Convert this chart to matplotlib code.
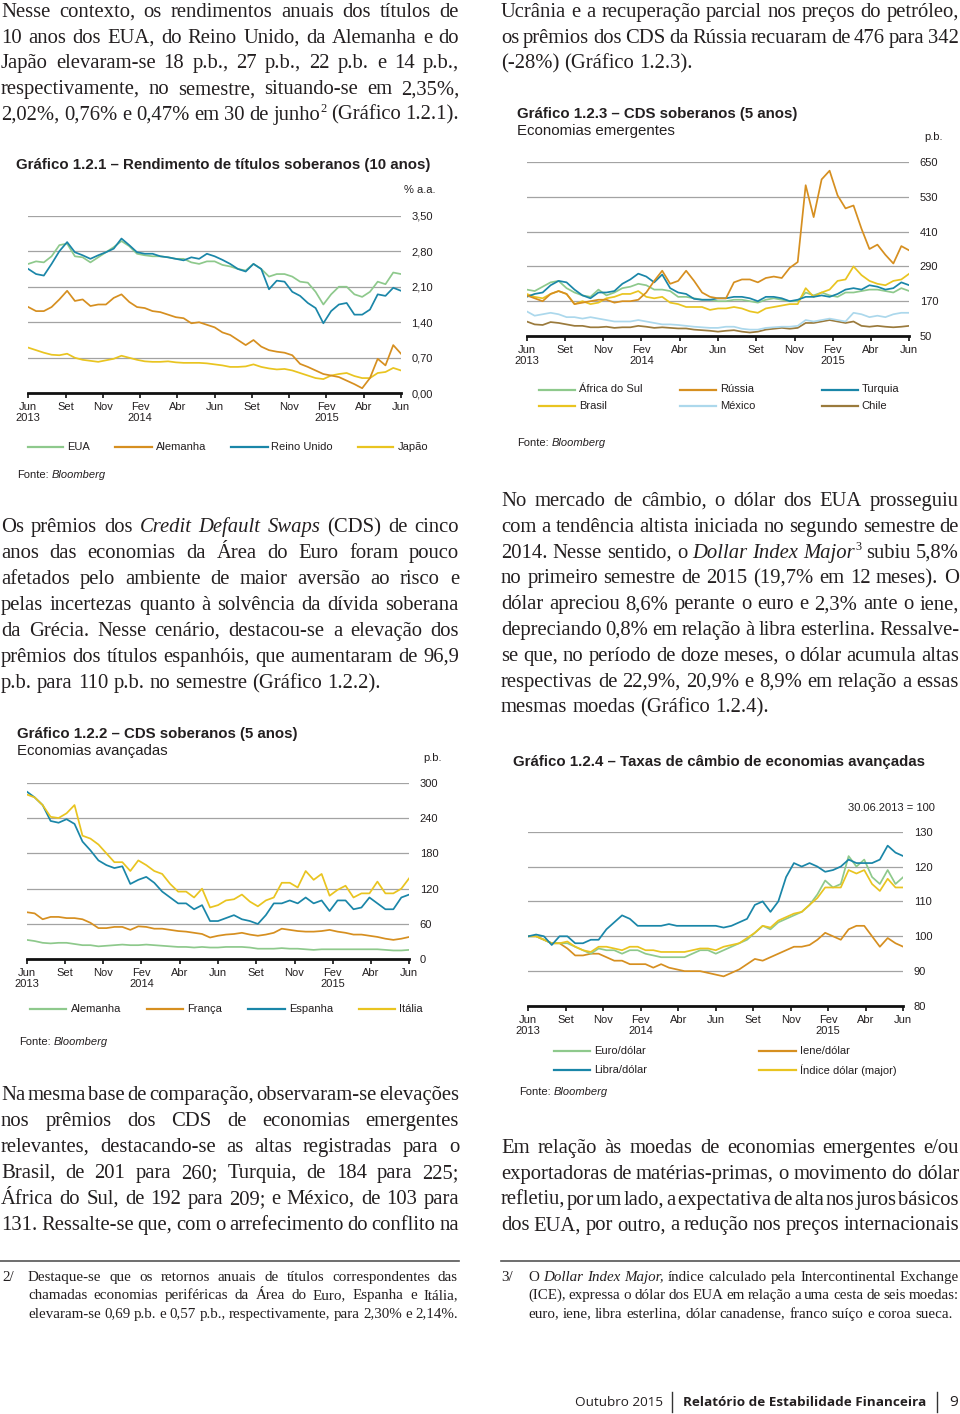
import matplotlib
matplotlib.use('Agg')
import matplotlib.pyplot as plt
from matplotlib.lines import Line2D
import numpy as np

# ---- data, two points per month, Jun 2013 .. Jun 2015 ----
months = ['Jun\n2013', 'Set', 'Nov', 'Fev\n2014', 'Abr', 'Jun', 'Set', 'Nov',
          'Fev\n2015', 'Abr', 'Jun']

# Gráfico 1.2.1 (% a.a.)
yield_eua = [2.55, 2.60, 2.58, 2.70, 2.92, 2.95, 2.70, 2.68, 2.58, 2.68,
             2.78, 2.88, 3.00, 2.90, 2.75, 2.72, 2.70, 2.70, 2.68, 2.65,
             2.65, 2.58, 2.55, 2.60, 2.60, 2.53, 2.50, 2.45, 2.42, 2.55,
             2.45, 2.30, 2.35, 2.35, 2.30, 2.20, 2.18, 2.00, 1.75, 1.95,
             2.10, 2.10, 1.95, 1.90, 2.00, 2.20, 2.15, 2.38, 2.35]
yield_alemanha = [1.70, 1.62, 1.62, 1.70, 1.85, 2.02, 1.82, 1.85, 1.72, 1.75,
                  1.75, 1.88, 1.95, 1.80, 1.70, 1.68, 1.62, 1.60, 1.55, 1.50,
                  1.48, 1.38, 1.40, 1.35, 1.30, 1.20, 1.15, 1.05, 0.95, 1.05,
                  0.92, 0.85, 0.82, 0.80, 0.75, 0.58, 0.52, 0.45, 0.38, 0.35,
                  0.32, 0.25, 0.18, 0.10, 0.30, 0.68, 0.55, 0.95, 0.78]
yield_reino_unido = [2.45, 2.35, 2.32, 2.55, 2.80, 2.98, 2.78, 2.72, 2.65, 2.72,
                     2.78, 2.85, 3.05, 2.92, 2.78, 2.75, 2.75, 2.70, 2.68, 2.65,
                     2.62, 2.68, 2.65, 2.75, 2.70, 2.63, 2.55, 2.45, 2.40, 2.55,
                     2.45, 2.05, 2.22, 2.20, 2.00, 1.92, 1.78, 1.68, 1.38, 1.62,
                     1.75, 1.78, 1.55, 1.55, 1.65, 1.95, 1.92, 2.08, 2.02]
yield_japao = [0.90, 0.85, 0.80, 0.76, 0.75, 0.78, 0.70, 0.66, 0.64, 0.62,
               0.65, 0.68, 0.74, 0.70, 0.66, 0.63, 0.62, 0.62, 0.63, 0.61,
               0.60, 0.60, 0.60, 0.59, 0.57, 0.55, 0.52, 0.52, 0.53, 0.57,
               0.52, 0.49, 0.47, 0.48, 0.45, 0.40, 0.35, 0.30, 0.28, 0.35,
               0.38, 0.40, 0.34, 0.30, 0.30, 0.40, 0.42, 0.50, 0.45]

# Gráfico 1.2.2 (p.b.)
cds_alemanha = [33, 31, 28, 27, 28, 28, 26, 24, 24, 22,
                23, 24, 25, 24, 24, 25, 24, 23, 22, 21,
                21, 20, 21, 20, 20, 21, 21, 21, 20, 18,
                18, 18, 19, 18, 18, 17, 16, 17, 17, 17,
                17, 17, 17, 17, 17, 16, 15, 15, 16]
cds_franca = [80, 78, 68, 72, 72, 70, 70, 68, 62, 53,
              53, 55, 55, 50, 56, 55, 52, 52, 50, 48,
              47, 45, 43, 37, 40, 42, 43, 45, 42, 40,
              42, 45, 52, 50, 48, 47, 47, 48, 50, 47,
              45, 42, 42, 40, 38, 35, 33, 35, 38]
cds_espanha = [285, 275, 262, 235, 232, 238, 230, 200, 185, 168,
               160, 155, 158, 128, 135, 140, 130, 115, 105, 95,
               95, 85, 92, 65, 65, 70, 75, 68, 65, 60,
               75, 95, 95, 100, 95, 105, 95, 100, 82, 100,
               100, 85, 88, 105, 95, 85, 85, 105, 110]
cds_italia = [280, 275, 262, 242, 240, 248, 262, 210, 205, 195,
              180, 165, 165, 150, 168, 160, 150, 145, 128, 115,
              115, 105, 120, 88, 92, 100, 102, 110, 98, 90,
              100, 105, 130, 130, 122, 150, 135, 145, 108, 118,
              125, 105, 112, 112, 132, 112, 112, 120, 138]

# Gráfico 1.2.3 (p.b.)
cds_africa = [210, 205, 220, 235, 240, 215, 200, 190, 185, 210,
              190, 200, 215, 220, 230, 225, 210, 210, 205, 185,
              185, 180, 175, 175, 170, 170, 175, 175, 170, 165,
              175, 180, 175, 170, 170, 200, 190, 200, 190, 185,
              200, 200, 205, 210, 210, 205, 200, 215, 205]
cds_russia = [190, 180, 170, 195, 205, 195, 160, 165, 170, 175,
              175, 165, 170, 170, 175, 200, 240, 275, 230, 240,
              275, 240, 200, 185, 180, 180, 235, 245, 245, 235,
              250, 255, 250, 285, 305, 570, 460, 590, 620, 535,
              490, 500, 420, 350, 365, 330, 300, 360, 345]
cds_turquia = [185, 195, 200, 225, 240, 235, 210, 190, 180, 200,
               200, 205, 230, 245, 265, 255, 235, 262, 215, 200,
               195, 178, 175, 175, 180, 180, 185, 185, 180, 170,
               185, 185, 180, 170, 175, 185, 185, 190, 185, 195,
               210, 215, 210, 225, 220, 210, 215, 235, 225]
cds_brasil = [195, 185, 180, 195, 205, 195, 160, 170, 160, 165,
              180, 185, 195, 195, 205, 185, 180, 185, 165, 160,
              150, 150, 150, 140, 145, 145, 150, 145, 135, 130,
              145, 150, 155, 160, 160, 215, 185, 200, 210, 240,
              245, 290, 260, 240, 230, 225, 240, 245, 265]
cds_mexico = [135, 120, 125, 130, 125, 115, 115, 110, 115, 110,
              105, 100, 100, 100, 105, 100, 95, 90, 90, 88,
              85, 82, 80, 78, 78, 82, 82, 75, 72, 72,
              78, 80, 82, 82, 85, 105, 100, 105, 110, 105,
              100, 130, 125, 115, 120, 115, 125, 130, 130]
cds_chile = [100, 90, 88, 98, 95, 90, 85, 85, 80, 80,
             82, 78, 80, 80, 85, 82, 78, 80, 78, 76,
             76, 72, 70, 68, 65, 68, 70, 65, 62, 65,
             72, 75, 78, 75, 78, 95, 95, 100, 105, 100,
             95, 100, 85, 82, 85, 82, 80, 82, 85]

# Gráfico 1.2.4 (30.06.2013 = 100)
fx_euro = [100, 100, 99, 98, 98, 98, 97, 96, 95, 96.5,
           96, 96, 95, 96, 96, 95, 94.5, 94, 94, 94,
           94, 95, 96, 96, 95, 96, 97, 98, 99, 101,
           103, 102, 104, 105, 106, 107, 109, 112, 116, 114,
           115, 123, 120, 122, 117, 115, 119, 115, 117]
fx_iene = [100, 100, 99, 98, 98, 96.5, 94.5, 94.5, 95, 95,
           94, 93, 93, 92, 92, 92, 91, 92, 91, 90.5,
           90, 90, 90, 89.5, 89, 88.5, 89.5, 90.5, 92, 93.5,
           93, 94, 95, 96, 97, 97, 97.5, 99, 101, 100,
           99, 102, 103, 103, 100, 97, 99.5, 98, 97]
fx_libra = [100, 100.5, 100, 97.5, 100, 100, 98, 98, 99, 99,
            102, 104, 106, 105, 103, 103, 103, 103, 103.5, 103,
            103, 103, 103, 103, 103, 102.5, 103, 104, 105, 109,
            110, 107, 110, 117, 121, 120, 121, 120, 118.5, 119,
            120, 122, 121, 121, 121, 122, 126, 124, 123]
fx_indice = [100, 100, 99, 98, 98, 98.5, 97, 96, 95.5, 97,
             97, 96.5, 96, 97, 97, 96, 96, 95.5, 95.5, 95.5,
             95.5, 96, 96.5, 96.5, 96, 97, 97.5, 98, 99.5, 101,
             103, 102.5, 104.5, 105.5, 106.5, 107, 109, 111, 114, 114,
             114, 119, 118, 119, 115, 113, 116.5, 114, 114]

GREEN = '#8ec98c'
ORANGE = '#d68f20'
TEAL = '#1a86a8'
YELLOW = '#e9c420'
LIGHTBLUE = '#acd8ec'
BROWN = '#9a7a3c'
INK = '#231f20'
GRID = '#a3a3a3'

SERIF = 'Liberation Serif'
SANS = 'Liberation Sans'

W, H = 960, 1414
fig = plt.figure(figsize=(9.6, 14.14), dpi=100, facecolor='white')
renderer = fig.canvas.get_renderer()


def fx(x):
    return x / W


def fy(y):
    return 1 - y / H


def text_width(s, size, family, style='normal', weight='normal'):
    t = fig.text(0, 0, s, fontsize=size, family=family, style=style, weight=weight)
    w = t.get_window_extent(renderer).width
    t.remove()
    return w


def word_parts(tok):
    sup = ''
    if '^' in tok:
        tok, sup = tok.split('^')
    italic = tok.startswith('_')
    return tok.replace('_', ''), italic, sup


def set_line(line, x0, x1, y, size, justify=True):
    words = [word_parts(t) for t in line.split()]
    widths = []
    for base, italic, sup in words:
        w = text_width(base, size, SERIF, 'italic' if italic else 'normal')
        if sup:
            w += text_width(sup, size * 0.6, SERIF)
        widths.append(w)
    if justify and len(words) > 1:
        gap = (x1 - x0 - sum(widths)) / (len(words) - 1)
    else:
        gap = text_width('a a', size, SERIF) - text_width('aa', size, SERIF)
    x = x0
    for (base, italic, sup), w in zip(words, widths):
        style = 'italic' if italic else 'normal'
        fig.text(fx(x), fy(y), base, fontsize=size, family=SERIF, style=style,
                 va='baseline', ha='left', color=INK)
        if sup:
            bw = text_width(base, size, SERIF, style)
            fig.text(fx(x + bw), fy(y - size * 0.5), sup, fontsize=size * 0.6,
                     family=SERIF, va='baseline', ha='left', color=INK)
        x += w + gap


def paragraph(lines, x0, x1, y0, step, size, last_left=True):
    for i, line in enumerate(lines):
        just = not (last_left and i == len(lines) - 1)
        set_line(line, x0, x1, y0 + i * step, size, just)


# font sizes matched to measured widths in the page
body = 10 * 380 / text_width('p.b. para 110 p.b. no semestre (Gráfico 1.2.2).', 10, SERIF)
note = 10 * 422 / text_width('euro, iene, libra esterlina, dólar canadense, franco suíço e coroa sueca.', 10, SERIF)
tsize = 10 * 415 / text_width('Gráfico 1.2.1 – Rendimento de títulos soberanos (10 anos)', 10, SANS, weight='bold')
ssize = 10 * 151 / text_width('Economias avançadas', 10, SANS)

# ---- body text ----
paragraph(["Nesse contexto, os rendimentos anuais dos títulos de",
           "10 anos dos EUA, do Reino Unido, da Alemanha e do",
           "Japão elevaram-se 18 p.b., 27 p.b., 22 p.b. e 14 p.b.,",
           "respectivamente, no semestre, situando-se em 2,35%,",
           "2,02%, 0,76% e 0,47% em 30 de junho^2 (Gráfico 1.2.1)."],
          1, 459, 17, 25.7, body, last_left=False)

paragraph(["Os prêmios dos _Credit_ _Default_ _Swaps_ (CDS) de cinco",
           "anos das economias da Área do Euro foram pouco",
           "afetados pelo ambiente de maior aversão ao risco e",
           "pelas incertezas quanto à solvência da dívida soberana",
           "da Grécia. Nesse cenário, destacou-se a elevação dos",
           "prêmios dos títulos espanhóis, que aumentaram de 96,9",
           "p.b. para 110 p.b. no semestre (Gráfico 1.2.2)."],
          1, 459, 532, 26, body)

paragraph(["Na mesma base de comparação, observaram-se elevações",
           "nos prêmios dos CDS de economias emergentes",
           "relevantes, destacando-se as altas registradas para o",
           "Brasil, de 201 para 260; Turquia, de 184 para 225;",
           "África do Sul, de 192 para 209; e México, de 103 para",
           "131. Ressalte-se que, com o arrefecimento do conflito na"],
          1, 459, 1100, 26, body, last_left=False)

paragraph(["Ucrânia e a recuperação parcial nos preços do petróleo,",
           "os prêmios dos CDS da Rússia recuaram de 476 para 342",
           "(-28%) (Gráfico 1.2.3)."],
          501, 959, 17, 25.7, body)

paragraph(["No mercado de câmbio, o dólar dos EUA prosseguiu",
           "com a tendência altista iniciada no segundo semestre de",
           "2014. Nesse sentido, o _Dollar_ _Index_ _Major_^3 subiu 5,8%",
           "no primeiro semestre de 2015 (19,7% em 12 meses). O",
           "dólar apreciou 8,6% perante o euro e 2,3% ante o iene,",
           "depreciando 0,8% em relação à libra esterlina. Ressalve-",
           "se que, no período de doze meses, o dólar acumula altas",
           "respectivas de 22,9%, 20,9% e 8,9% em relação a essas",
           "mesmas moedas (Gráfico 1.2.4)."],
          501, 959, 506, 25.8, body)

paragraph(["Em relação às moedas de economias emergentes e/ou",
           "exportadoras de matérias-primas, o movimento do dólar",
           "refletiu, por um lado, a expectativa de alta nos juros básicos",
           "dos EUA, por outro, a redução nos preços internacionais"],
          501, 959, 1153, 25.8, body, last_left=False)

# ---- footnotes ----
fig.add_artist(Line2D([fx(0), fx(459)], [fy(1261), fy(1261)], color='#555555', lw=1.2))
fig.add_artist(Line2D([fx(501), fx(960)], [fy(1261), fy(1261)], color='#555555', lw=1.2))
fig.text(fx(2), fy(1281), '2/', fontsize=note, family=SERIF, va='baseline', color=INK)
paragraph(["Destaque-se que os retornos anuais de títulos correspondentes das",
           "chamadas economias periféricas da Área do Euro, Espanha e Itália,",
           "elevaram-se 0,69 p.b. e 0,57 p.b., respectivamente, para 2,30% e 2,14%."],
          28, 458, 1281, 18.3, note, last_left=False)
fig.text(fx(501), fy(1281), '3/', fontsize=note, family=SERIF, va='baseline', color=INK)
paragraph(["O _Dollar_ _Index_ _Major_, índice calculado pela Intercontinental Exchange",
           "(ICE), expressa o dólar dos EUA em relação a uma cesta de seis moedas:",
           "euro, iene, libra esterlina, dólar canadense, franco suíço e coroa sueca."],
          528, 959, 1281, 18.3, note)

# ---- footer ----
fsize = 10 * 242 / text_width('Relatório de Estabilidade Financeira', 10, 'Open Sans', weight='bold')
fig.text(fx(575), fy(1402), 'Outubro 2015', fontsize=fsize, family='Open Sans', va='center', color=INK)
fig.text(fx(683), fy(1402), 'Relatório de Estabilidade Financeira', fontsize=fsize,
         family='Open Sans', weight='bold', va='center', color=INK)
fig.text(fx(949), fy(1402), '9', fontsize=fsize * 1.15, family='Open Sans', va='center', color=INK)
for xb in (672, 937):
    fig.add_artist(Line2D([fx(xb), fx(xb)], [fy(1392), fy(1412)], color='#333333', lw=1.0))


# ---- charts ----
def chart(box, ylim, yticks, ylabels, series):
    x0, y0, x1, y1 = box
    ax = fig.add_axes([fx(x0), fy(y1), (x1 - x0) / W, (y1 - y0) / H])
    ax.set_facecolor('none')
    for vals, c in series:
        xs = np.linspace(0, len(months) - 1, len(vals))
        ax.plot(xs, vals, color=c, lw=1.25, solid_joinstyle='round')
    ax.set_xlim(0, len(months) - 1)
    ax.set_ylim(*ylim)
    ax.set_yticks(yticks)
    ax.set_yticklabels(ylabels)
    ax.yaxis.tick_right()
    ax.tick_params(axis='y', length=0, pad=7.5, labelsize=8, labelcolor=INK)
    ax.set_xticks(range(len(months)))
    ax.set_xticklabels(months, fontsize=8, color=INK, linespacing=1.1)
    ax.tick_params(axis='x', length=3.5, width=1.2, direction='out', pad=3, color='#111111')
    for lbl in ax.get_xticklabels() + ax.get_yticklabels():
        lbl.set_family(SANS)
    for s in ('top', 'right', 'left'):
        ax.spines[s].set_visible(False)
    ax.spines['bottom'].set_linewidth(2)
    ax.spines['bottom'].set_color('#111111')
    ax.grid(axis='y', color=GRID, lw=0.9)
    ax.set_axisbelow(True)
    return ax


def legend_entry(xl0, xl1, xt, y, label, color):
    fig.add_artist(Line2D([fx(xl0), fx(xl1)], [fy(y), fy(y)], color=color, lw=1.6))
    fig.text(fx(xt), fy(y), label, fontsize=8, family=SANS, va='center', ha='left', color=INK)


def note_text(x, y, s, **kw):
    fig.text(fx(x), fy(y), s, fontsize=8, family=SANS, va='center', color=INK, **kw)


def fonte(x, y):
    fig.text(fx(x), fy(y), 'Fonte:', fontsize=8, family=SANS, va='center', color=INK)
    w = text_width('Fonte: ', 8, SANS)
    fig.text(fx(x + w), fy(y), 'Bloomberg', fontsize=8, family=SANS, style='italic',
             va='center', color=INK)


# Gráfico 1.2.1
fig.text(fx(16), fy(165), 'Gráfico 1.2.1 – Rendimento de títulos soberanos (10 anos)',
         fontsize=tsize, family=SANS, weight='bold', va='center', color=INK)
note_text(404, 190, '% a.a.')
t1 = [0, 0.7, 1.4, 2.1, 2.8, 3.5]
chart((28.3, 215.7, 401, 393.3), (0, 3.5), t1, [f'{v:.2f}'.replace('.', ',') for v in t1],
      [(yield_japao, YELLOW), (yield_eua, GREEN), (yield_alemanha, ORANGE), (yield_reino_unido, TEAL)])
legend_entry(28, 63, 67.5, 447, 'EUA', GREEN)
legend_entry(115, 152, 155.5, 447, 'Alemanha', ORANGE)
legend_entry(231, 268, 271, 447, 'Reino Unido', TEAL)
legend_entry(358, 393, 397.5, 447, 'Japão', YELLOW)
fonte(17, 475)

# Gráfico 1.2.3
fig.text(fx(516.7), fy(114), 'Gráfico 1.2.3 – CDS soberanos (5 anos)',
         fontsize=tsize, family=SANS, weight='bold', va='center', color=INK)
fig.text(fx(516.7), fy(131), 'Economias emergentes', fontsize=ssize, family=SANS, va='center', color=INK)
note_text(924, 136.5, 'p.b.')
t3 = [50, 170, 290, 410, 530, 650]
chart((526.7, 162, 909.3, 336), (50, 650), t3, [str(v) for v in t3],
      [(cds_chile, BROWN), (cds_mexico, LIGHTBLUE), (cds_africa, GREEN), (cds_brasil, YELLOW),
       (cds_turquia, TEAL), (cds_russia, ORANGE)])
legend_entry(539, 575, 579, 389.5, 'África do Sul', GREEN)
legend_entry(680, 716, 720, 389.5, 'Rússia', ORANGE)
legend_entry(822, 858, 861.5, 389.5, 'Turquia', TEAL)
legend_entry(539, 575, 579, 406, 'Brasil', YELLOW)
legend_entry(680, 716, 720, 406, 'México', LIGHTBLUE)
legend_entry(822, 858, 861.5, 406, 'Chile', BROWN)
fonte(517, 443.5)

# Gráfico 1.2.2
fig.text(fx(16.7), fy(734), 'Gráfico 1.2.2 – CDS soberanos (5 anos)',
         fontsize=tsize, family=SANS, weight='bold', va='center', color=INK)
fig.text(fx(16.7), fy(751), 'Economias avançadas', fontsize=ssize, family=SANS, va='center', color=INK)
note_text(423, 758, 'p.b.')
t2 = [0, 60, 120, 180, 240, 300]
chart((26.7, 782.7, 409.3, 959.3), (0, 300), t2, [str(v) for v in t2],
      [(cds_alemanha, GREEN), (cds_franca, ORANGE), (cds_espanha, TEAL), (cds_italia, YELLOW)])
legend_entry(30, 66, 70.5, 1009.3, 'Alemanha', GREEN)
legend_entry(147, 183, 187, 1009.3, 'França', ORANGE)
legend_entry(248, 285, 289, 1009.3, 'Espanha', TEAL)
legend_entry(359, 395, 399, 1009.3, 'Itália', YELLOW)
fonte(18.7, 1042)

# Gráfico 1.2.4
fig.text(fx(513.3), fy(761.7), 'Gráfico 1.2.4 – Taxas de câmbio de economias avançadas',
         fontsize=tsize, family=SANS, weight='bold', va='center', color=INK)
note_text(935, 808, '30.06.2013 = 100', ha='right')
t4 = [80, 90, 100, 110, 120, 130]
chart((528.3, 831.7, 903.3, 1006), (80, 130), t4, [str(v) for v in t4],
      [(fx_iene, ORANGE), (fx_euro, GREEN), (fx_indice, YELLOW), (fx_libra, TEAL)])
legend_entry(554, 590, 594.3, 1051, 'Euro/dólar', GREEN)
legend_entry(759, 796, 800, 1051, 'Iene/dólar', ORANGE)
legend_entry(554, 590, 594.3, 1070, 'Libra/dólar', TEAL)
legend_entry(759, 796, 800, 1070, 'Índice dólar (major)', YELLOW)
fonte(518.7, 1091.7)

fig.savefig('out.png', dpi=100, facecolor='white')
